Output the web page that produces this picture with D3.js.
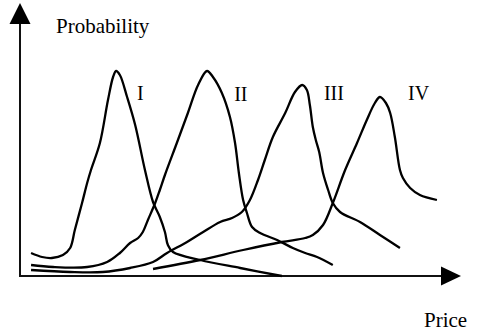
<!DOCTYPE html>
<html>
<head>
<meta charset="utf-8">
<script src="https://cdn.jsdelivr.net/npm/d3@7"></script>
<style>
  html, body { margin: 0; padding: 0; background: #fff; }
  svg { display: block; }
  text { font-family: "Liberation Serif", "Times New Roman", serif; fill: #000; }
</style>
</head>
<body>
<script>
// ---- data (Price on x, Probability on y, arbitrary units 0..100) ----
const seriesNames = ["I", "II", "III", "IV"];

const curveI = [
  [2.6, 9.2], [5.2, 7.6], [7.5, 7.2], [10.1, 8.4], [11.8, 11.2], [12.9, 18.4],
  [14.6, 29.2], [15.8, 37.2], [16.7, 42.4], [18.8, 53.2], [20.7, 70.4], [21.9, 79.6],
  [22.6, 82.0], [23.5, 80.4], [25.2, 71.6], [27.1, 60.4], [29.4, 42.4], [31.3, 29.6],
  [32.9, 23.6], [34.1, 17.6], [34.8, 12.4], [36.0, 9.6], [42.4, 6.4], [51.8, 3.2], [61.6, 0]
];

const curveII = [
  [2.6, 4.4], [7.8, 3.6], [15.8, 3.6], [20.5, 5.6], [23.5, 9.2], [25.9, 13.2],
  [27.8, 15.2], [28.9, 17.6], [30.1, 22.4], [31.8, 29.2], [32.9, 34.4], [34.1, 40.4],
  [36.9, 53.2], [39.5, 65.2], [41.9, 76.4], [44.0, 82.0], [45.4, 79.6], [47.5, 73.2],
  [49.4, 63.6], [50.6, 53.2], [51.5, 41.2], [52.5, 30.4], [53.4, 25.2], [54.6, 19.6],
  [56.5, 17.2], [60.5, 14.4], [64.2, 11.2], [67.1, 9.2], [69.9, 7.6], [73.6, 4.4]
];

const curveIII = [
  [2.6, 2.4], [11.8, 1.6], [19.5, 1.6], [25.9, 3.2], [31.3, 5.6], [34.6, 9.2],
  [39.3, 13.6], [43.1, 17.6], [47.1, 21.6], [49.9, 23.2], [52.2, 25.6], [54.1, 30.4],
  [56.0, 38.4], [57.6, 46.4], [59.5, 55.6], [62.4, 65.2], [64.7, 73.6], [66.4, 76.4],
  [67.5, 74.4], [68.2, 68.4], [68.9, 59.6], [69.6, 54.4], [70.4, 49.6], [71.3, 41.2],
  [72.5, 34.4], [73.6, 29.2], [75.3, 25.6], [80.0, 21.6], [84.7, 16.4], [89.4, 11.2]
];

const curveIV = [
  [31.3, 2.8], [42.4, 6.4], [52.5, 10.4], [61.6, 13.6], [67.1, 15.2], [68.9, 16.4],
  [71.3, 20.4], [73.6, 29.2], [76.5, 42.4], [79.3, 53.2], [81.6, 62.4], [83.5, 69.2],
  [84.7, 71.6], [86.1, 69.2], [87.1, 65.2], [88.2, 55.6], [89.4, 42.4], [90.1, 39.2],
  [91.8, 35.2], [94.1, 32.4], [98.1, 30.4]
];

// label anchor positions (data units)
const labelX = [27.5, 50.4, 71.5, 91.3];
const labelY = [70.4, 70.2, 70.4, 70.4];

const xTitle = "Price";
const yTitle = "Probability";

// ---- drawing ----
const W = 477, H = 335;
const svg = d3.select("body").append("svg").attr("width", W).attr("height", H);

const x = d3.scaleLinear().domain([0, 100]).range([20, 445]);
const y = d3.scaleLinear().domain([0, 100]).range([276, 26]);

const x0 = x(0), y0 = y(0);

// axes
const axisColor = "#111";
svg.append("line")
  .attr("x1", x0).attr("y1", y0).attr("x2", x0).attr("y2", 22)
  .attr("stroke", axisColor).attr("stroke-width", 2);
svg.append("path")
  .attr("d", `M${x0 - 10.5},24 L${x0 + 10.5},24 L${x0},3 Z`)
  .attr("fill", "#000");

svg.append("line")
  .attr("x1", x0 - 1).attr("y1", y0).attr("x2", 443).attr("y2", y0)
  .attr("stroke", axisColor).attr("stroke-width", 2);
svg.append("path")
  .attr("d", `M441,${y0 - 9.5} L441,${y0 + 9.5} L461,${y0} Z`)
  .attr("fill", "#000");

// curves
const line = d3.line()
  .x(d => x(d[0]))
  .y(d => y(d[1]))
  .curve(d3.curveCatmullRom.alpha(0.5));

[curveI, curveII, curveIII, curveIV].forEach(c => {
  svg.append("path")
    .attr("d", line(c))
    .attr("fill", "none")
    .attr("stroke", "#000")
    .attr("stroke-width", 2.3)
    .attr("stroke-linejoin", "round")
    .attr("stroke-linecap", "butt");
});

// series labels
svg.selectAll("text.lbl")
  .data(seriesNames)
  .enter().append("text")
  .attr("class", "lbl")
  .attr("x", (d, i) => x(labelX[i]))
  .attr("y", (d, i) => y(labelY[i]))
  .attr("font-size", 20)
  .text(d => d);

// axis titles
svg.append("text")
  .attr("x", 56).attr("y", 33)
  .attr("font-size", 21)
  .text(yTitle);

svg.append("text")
  .attr("x", 424).attr("y", 327)
  .attr("font-size", 21)
  .text(xTitle);
</script>
</body>
</html>
